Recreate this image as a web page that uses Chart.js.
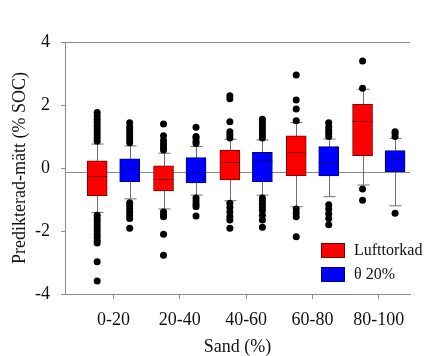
<!DOCTYPE html>
<html>
<head>
<meta charset="utf-8">
<script src="https://cdn.jsdelivr.net/npm/chart.js@4.4.0/dist/chart.umd.min.js"></script>
<style>
  html, body { margin: 0; padding: 0; background: #fff; }
</style>
</head>
<body>
<canvas id="chart" width="428" height="356"></canvas>
<script>
const categories = ["0-20", "20-40", "40-60", "60-80", "80-100"];
const yTicks = [-4, -2, 0, 2, 4];
const refLine = -0.12;

// Lufttorkad
const lufLow  = [-1.41, -1.30, -1.04, -1.23, -0.54];
const lufQ1   = [-0.88, -0.73, -0.38, -0.24, 0.39];
const lufMed  = [-0.25, -0.35, 0.18, 0.52, 1.50];
const lufQ3   = [0.23, 0.07, 0.57, 1.02, 2.02];
const lufHigh = [0.76, 0.47, 0.91, 1.44, 2.50];
const lufOut = [
  [0.85, 0.95, 1.05, 1.15, 1.25, 1.35, 1.45, 1.55, 1.65, 1.76, -1.5, -1.6, -1.7, -1.8, -1.9, -2.0, -2.1, -2.2, -2.3, -2.38, -2.98, -3.59],
  [0.57, 0.67, 0.77, 0.87, 1.02, 1.40, -1.4, -1.5, -1.55, -2.1, -2.77],
  [0.95, 1.05, 1.15, 1.47, 2.2, 2.29, -1.12, -1.25, -1.4, -1.55, -1.65, -1.91],
  [1.5, 1.87, 2.16, 2.95, -1.3, -1.42, -1.55, -2.18],
  [2.53, 3.4, -0.67, -1.02]
];

// θ 20%
const thLow  = [-0.98, -0.86, -0.86, -0.91, -1.20];
const thQ1   = [-0.43, -0.47, -0.43, -0.25, -0.12];
const thMed  = [-0.04, -0.12, 0.23, 0.20, 0.31];
const thQ3   = [0.29, 0.33, 0.50, 0.68, 0.55];
const thHigh = [0.70, 0.68, 0.89, 0.92, 0.94];
const thOut = [
  [0.8, 0.9, 1.0, 1.1, 1.2, 1.3, 1.44, -1.1, -1.2, -1.3, -1.4, -1.5, -1.6, -1.91],
  [0.78, 0.85, 0.95, 1.0, 1.29, -0.95, -1.05, -1.15, -1.23, -1.52],
  [0.95, 1.05, 1.15, 1.25, 1.35, 1.45, 1.55, -0.95, -1.05, -1.15, -1.25, -1.35, -1.5, -1.65, -1.88],
  [1.0, 1.1, 1.2, 1.3, 1.44, -1.17, -1.3, -1.45, -1.6, -1.8],
  [1.0, 1.1, 1.15, -1.44]
];

const OFF = 0.245;
const serif = "'Liberation Serif', 'Times New Roman', Times, serif";
const axisGray = "#8a8a8a";

const groups = [
  { label: "Lufttorkad", off: -OFF, low: lufLow, q1: lufQ1, med: lufMed, q3: lufQ3, high: lufHigh, out: lufOut, fill: "#ff0000", edge: "#7a0000" },
  { label: "θ 20%", off: OFF, low: thLow, q1: thQ1, med: thMed, q3: thQ3, high: thHigh, out: thOut, fill: "#0000ff", edge: "#00007a" }
];

function boxData(g) {
  return categories.map((c, i) => ({ x: i + 1 + g.off, y: [g.q1[i], g.q3[i]] }));
}
function outData(g) {
  const pts = [];
  g.out.forEach((arr, i) => arr.forEach(v => pts.push({ x: i + 1 + g.off, y: v })));
  return pts;
}

function line(ctx, x1, y1, x2, y2) {
  ctx.beginPath();
  ctx.moveTo(x1, y1);
  ctx.lineTo(x2, y2);
  ctx.stroke();
}

const boxExtras = {
  id: "boxExtras",
  beforeDatasetsDraw(chart) {
    const { ctx, chartArea, scales: { x, y } } = chart;
    ctx.save();
    ctx.lineWidth = 1;
    ctx.strokeStyle = axisGray;
    const yz = Math.round(y.getPixelForValue(refLine)) + 0.5;
    line(ctx, chartArea.left, yz, chartArea.right, yz);
    line(ctx, chartArea.left, chartArea.top + 0.5, chartArea.right, chartArea.top + 0.5);

    ctx.strokeStyle = "#6e6e6e";
    groups.forEach(g => {
      categories.forEach((c, i) => {
        const px = Math.round(x.getPixelForValue(i + 1 + g.off)) + 0.5;
        const lo = y.getPixelForValue(g.low[i]);
        const hi = y.getPixelForValue(g.high[i]);
        line(ctx, px, lo, px, hi);
        line(ctx, px - 6, lo, px + 6, lo);
        line(ctx, px - 6, hi, px + 6, hi);
      });
    });
    ctx.restore();
  },
  afterDatasetsDraw(chart) {
    const { ctx, chartArea, scales: { x, y } } = chart;
    ctx.save();
    ctx.lineWidth = 1;
    groups.forEach(g => {
      ctx.strokeStyle = g.edge;
      categories.forEach((c, i) => {
        const px = x.getPixelForValue(i + 1 + g.off);
        const pm = Math.round(y.getPixelForValue(g.med[i])) + 0.5;
        line(ctx, px - 10, pm, px + 10, pm);
      });
    });

    // legend
    const lx = chartArea.right - 89;
    let ly = chartArea.top + 201;
    ctx.font = "16px " + serif;
    ctx.textBaseline = "middle";
    groups.forEach(g => {
      ctx.fillStyle = g.fill;
      ctx.fillRect(lx, ly, 24, 15);
      ctx.strokeStyle = g.edge;
      ctx.strokeRect(lx + 0.5, ly + 0.5, 23, 14);
      ctx.fillStyle = "#111";
      ctx.fillText(g.label, lx + 33, ly + 8);
      ly += 24;
    });
    ctx.restore();
  }
};

const datasets = [];
groups.forEach(g => {
  datasets.push({
    type: "bar",
    label: g.label,
    data: boxData(g),
    backgroundColor: g.fill,
    borderColor: g.edge,
    borderWidth: 1,
    borderSkipped: false,
    grouped: false,
    barThickness: 20
  });
});
groups.forEach(g => {
  datasets.push({
    type: "scatter",
    label: g.label + " outliers",
    data: outData(g),
    backgroundColor: "#000",
    borderColor: "#000",
    pointRadius: 3.5,
    pointBorderWidth: 0
  });
});

function draw() {
  new Chart(document.getElementById("chart"), {
    type: "bar",
    data: { datasets },
    plugins: [boxExtras],
    options: {
      responsive: false,
      animation: false,
      layout: { padding: { top: 42, right: 18, left: 0, bottom: 0 } },
      plugins: { legend: { display: false }, tooltip: { enabled: false } },
      scales: {
        x: {
          type: "linear",
          offset: false,
          min: 0.27,
          max: 5.47,
          afterBuildTicks: s => { s.ticks = categories.map((c, i) => ({ value: i + 1 })); },
          afterFit: s => { s.height = 62; },
          ticks: {
            callback: v => categories[v - 1],
            font: { family: serif, size: 18 },
            color: "#111",
            padding: 10,
            maxRotation: 0,
            autoSkip: false
          },
          grid: { drawOnChartArea: false, tickLength: 5, color: axisGray, offset: false },
          border: { color: axisGray },
          title: {
            display: true,
            text: "Sand (%)",
            font: { family: serif, size: 18, lineHeight: 1 },
            color: "#111",
            padding: { top: 0, bottom: 0 }
          }
        },
        y: {
          min: -4,
          max: 4,
          afterBuildTicks: s => { s.ticks = yTicks.map(v => ({ value: v })); },
          afterFit: s => { s.width = 65; },
          ticks: {
            font: { family: serif, size: 18 },
            color: "#111",
            padding: 11
          },
          grid: { drawOnChartArea: false, tickLength: 4, color: axisGray },
          border: { color: axisGray },
          title: {
            display: true,
            text: "Predikterad-mätt (% SOC)",
            font: { family: serif, size: 18, lineHeight: 1.2 },
            color: "#111",
            padding: { top: 9, bottom: 0 }
          }
        }
      }
    }
  });
}

if (document.fonts && document.fonts.load) {
  document.fonts.load("18px 'Liberation Serif'").then(draw, draw);
} else {
  draw();
}
</script>
</body>
</html>
